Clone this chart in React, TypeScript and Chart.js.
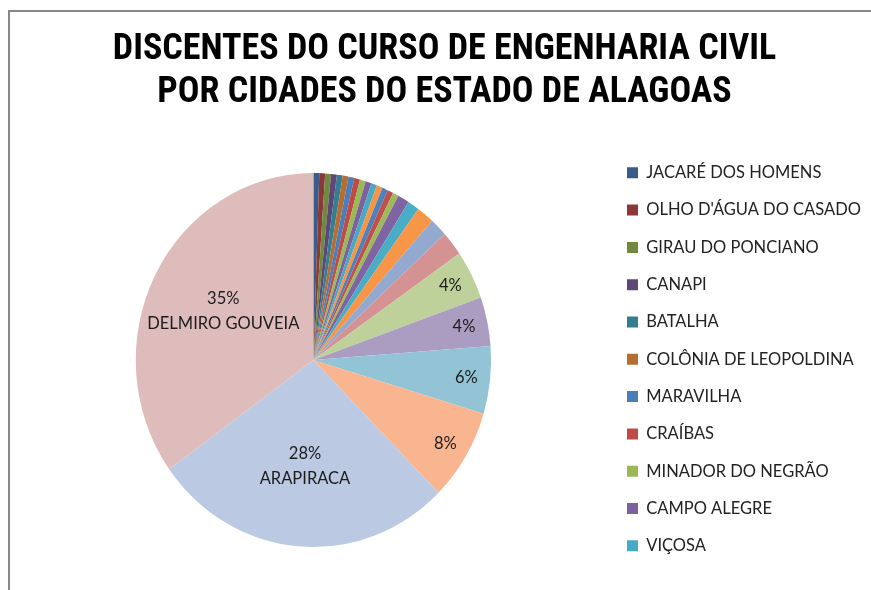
import React, { useEffect, useRef } from "react";
import { Chart, registerables } from "chart.js";

Chart.register(...registerables);

// ---- data ----
const titleLines = [
  "DISCENTES DO CURSO DE ENGENHARIA CIVIL",
  "POR CIDADES DO ESTADO DE ALAGOAS",
];

const cities = [
  "JACARÉ DOS HOMENS",
  "OLHO D'ÁGUA DO CASADO",
  "GIRAU DO PONCIANO",
  "CANAPI",
  "BATALHA",
  "COLÔNIA DE LEOPOLDINA",
  "MARAVILHA",
  "CRAÍBAS",
  "MINADOR DO NEGRÃO",
  "CAMPO ALEGRE",
  "VIÇOSA",
  "CIDADE 12",
  "CIDADE 13",
  "CIDADE 14",
  "CIDADE 15",
  "CIDADE 16",
  "CIDADE 17",
  "CIDADE 18",
  "CIDADE 19",
  "CIDADE 20",
  "CIDADE 21",
  "CIDADE 22",
  "CIDADE 23",
  "CIDADE 24",
  "ARAPIRACA",
  "DELMIRO GOUVEIA",
];

const students = [
  1, 1, 1, 1, 1, 1, 1, 1, 1, 1, 1, 1, 1, 1, 1, 2, 2, 3, 3, 4, 8, 8, 11, 15, 52,
  66,
];

const sliceColors = [
  "#385D8A", "#8C3836", "#71893F", "#5C4776", "#357D91", "#B66D31",
  "#4A7EBB", "#BE4B48", "#98B954", "#7D60A0", "#46AAC5", "#F69544",
  "#4F81BD", "#C0504D", "#9BBB59", "#8064A2", "#4BACC6", "#F79646",
  "#93A9CF", "#D49392", "#BFD19B", "#AB9CC1", "#93C4D6", "#F9B590",
  "#BBC9E2", "#DFBCBC",
];

const legendVisibleCount = 11;

// horizontal squash of the pie (the reference pie is slightly oval)
const pieScaleX = 0.95;

// ---- oval pie + slice labels (percent, plus name for the big slices) ----
const sliceLabelPlugin = {
  id: "sliceLabels",
  beforeDatasetsDraw(chart: any) {
    const ctx = chart.ctx as CanvasRenderingContext2D;
    const arc = chart.getDatasetMeta(0).data[0] as any;
    const { x, y } = arc.getProps(["x", "y"], true);
    ctx.save();
    ctx.translate(x, y);
    ctx.scale(pieScaleX, 1);
    ctx.translate(-x, -y);
  },
  afterDatasetsDraw(chart: any) {
    const ctx = chart.ctx as CanvasRenderingContext2D;
    ctx.restore();
    const meta = chart.getDatasetMeta(0);
    const values = chart.data.datasets[0].data as number[];
    const names = chart.data.labels as string[];
    const total = values.reduce((a, b) => a + b, 0);
    ctx.save();
    ctx.font = "16.5px Lato";
    ctx.fillStyle = "#1c1c1c";
    ctx.textAlign = "center";
    ctx.textBaseline = "middle";
    meta.data.forEach((arc: any, i: number) => {
      const share = values[i] / total;
      if (share < 0.035) return;
      const p = arc.getProps(
        ["x", "y", "startAngle", "endAngle", "outerRadius"],
        true
      );
      const mid = (p.startAngle + p.endAngle) / 2;
      const big = share > 0.2;
      const dist = big ? p.outerRadius * 0.57 : p.outerRadius - 25;
      const cx = p.x + Math.cos(mid) * dist * pieScaleX;
      const cy = p.y + Math.sin(mid) * dist;
      const pct = Math.round(share * 100) + "%";
      const lines = big ? [pct, names[i]] : [pct];
      const lh = 25;
      lines.forEach((t, k) => {
        ctx.fillText(t, cx, cy + (k - (lines.length - 1) / 2) * lh);
      });
    });
    ctx.restore();
  },
};

export default function App() {
  const canvasRef = useRef<HTMLCanvasElement | null>(null);

  useEffect(() => {
    if (!canvasRef.current) return;
    const chart = new Chart(canvasRef.current, {
      type: "pie",
      data: {
        labels: cities,
        datasets: [
          {
            data: students,
            backgroundColor: sliceColors,
            borderWidth: 0,
            radius: 187,
          } as any,
        ],
      },
      options: {
        responsive: false,
        animation: false,
        layout: {
          padding: { left: 20.6, right: 2.6, top: 0, bottom: 13.75 },
        },
        plugins: {
          title: {
            display: true,
            text: titleLines,
            color: "#000000",
            font: {
              family: "'Roboto Condensed', 'DejaVu Sans Condensed', sans-serif",
              weight: "bold",
              size: 36,
              lineHeight: 43 / 36,
            },
            padding: { top: 28, bottom: 29.75 },
          },
          legend: {
            position: "right",
            align: "start",
            fullSize: false,
            maxWidth: 262.2,
            labels: {
              boxWidth: 11,
              boxHeight: 11,
              padding: 20.8,
              color: "#222222",
              font: { family: "Lato", size: 16.5 },
              filter: (item: any) => item.index < legendVisibleCount,
            },
          } as any,
          tooltip: { enabled: false },
        },
      },
      plugins: [sliceLabelPlugin],
    });
    return () => chart.destroy();
  }, []);

  return (
    <div
      style={{
        position: "fixed",
        left: 0,
        top: 0,
        width: 871,
        height: 590,
        overflow: "hidden",
        background: "#ffffff",
      }}
    >
      <div
        style={{
          position: "absolute",
          left: 8,
          top: 10,
          width: 1000,
          height: 1000,
          borderLeft: "2px solid #878787",
          borderTop: "2px solid #878787",
        }}
      />
      <canvas
        ref={canvasRef}
        width={871}
        height={590}
        style={{ position: "absolute", left: 0, top: 0 }}
      />
    </div>
  );
}
